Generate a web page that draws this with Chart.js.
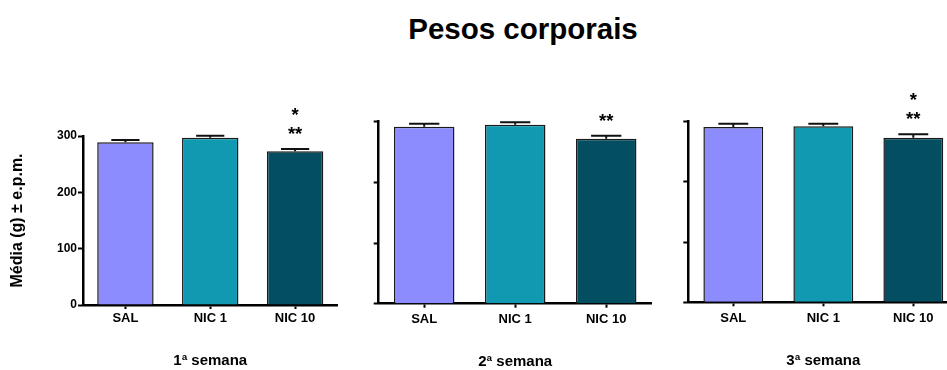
<!DOCTYPE html>
<html>
<head>
<meta charset="utf-8">
<script src="https://cdn.jsdelivr.net/npm/chart.js@4/dist/chart.umd.min.js"></script>
<style>
  html, body { margin: 0; padding: 0; background: #fff; overflow: hidden; }
  #wrap { position: relative; width: 947px; height: 370px; overflow: hidden; }
  canvas.panel { position: absolute; left: 0; top: 0; }
  #title {
    position: absolute; left: 0; width: 1046px; top: 14.3px; text-align: center;
    font: bold 29.5px "Liberation Sans", Arial, sans-serif; line-height: 29.5px; color: #000;
  }
</style>
</head>
<body>
<div id="wrap">
  <div id="title">Pesos corporais</div>
  <canvas id="c1" class="panel" width="980" height="380"></canvas>
  <canvas id="c2" class="panel" width="980" height="380"></canvas>
  <canvas id="c3" class="panel" width="980" height="380"></canvas>
</div>
<script>
// Body weight (g), mean and standard error per treatment group, by week
const categories = ['SAL', 'NIC 1', 'NIC 10'];
const weekLabels = ['1ª semana', '2ª semana', '3ª semana'];
const yTickLabels = ['0', '100', '200', '300'];

const week1Means = [288.8, 297.0, 272.9];
const week1Sem   = [4.2, 3.6, 4.1];
const week1Sig   = ['', '', ['**', '*']];

const week2Means = [291.7, 295.0, 272.0];
const week2Sem   = [5.0, 4.0, 5.0];
const week2Sig   = ['', '', ['**']];

const week3Means = [291.2, 292.4, 273.4];
const week3Sem   = [5.5, 4.3, 5.6];
const week3Sig   = ['', '', ['**', '*']];

const groupColors = ['#8C8CFF', '#1199B1', '#034F61'];
const FONT = '"Liberation Sans", Arial, sans-serif';

// Upper error bar (mean + SEM) with a cap half as wide as the bar
const errorBarPlugin = {
  id: 'errorBars',
  afterDatasetsDraw(chart) {
    const { ctx, scales: { y } } = chart;
    const meta = chart.getDatasetMeta(0);
    const ds = chart.data.datasets[0];
    ctx.save();
    ctx.strokeStyle = '#111';
    ctx.lineWidth = 2;
    meta.data.forEach((bar, i) => {
      const top = y.getPixelForValue(ds.data[i]);
      const capY = y.getPixelForValue(ds.data[i] + ds.sem[i]);
      const half = bar.width / 4;
      ctx.beginPath();
      ctx.moveTo(bar.x, top);
      ctx.lineTo(bar.x, capY);
      ctx.moveTo(bar.x - half, capY);
      ctx.lineTo(bar.x + half, capY);
      ctx.stroke();
    });
    ctx.restore();
  }
};

// Significance asterisks stacked above the error bars
const sigPlugin = {
  id: 'sigMarks',
  afterDatasetsDraw(chart) {
    const { ctx, scales: { y } } = chart;
    const meta = chart.getDatasetMeta(0);
    const ds = chart.data.datasets[0];
    ctx.save();
    ctx.fillStyle = '#000';
    ctx.font = 'bold 18.5px ' + FONT;
    ctx.textAlign = 'center';
    ctx.textBaseline = 'alphabetic';
    meta.data.forEach((bar, i) => {
      const marks = ds.sig[i];
      if (!marks) return;
      const capY = y.getPixelForValue(ds.data[i] + ds.sem[i]);
      marks.forEach((m, k) => {
        ctx.fillText(m, bar.x, capY - 9 - k * 19);
      });
    });
    ctx.restore();
  }
};

function makePanel(id, means, sem, sig, week, layout, showY) {
  return new Chart(document.getElementById(id), {
    type: 'bar',
    data: {
      labels: categories,
      datasets: [{
        data: means,
        sem: sem,
        sig: sig,
        backgroundColor: groupColors,
        borderColor: '#1a1a1a',
        borderWidth: 1.5,
        categoryPercentage: 1,
        barPercentage: 0.665
      }]
    },
    options: {
      responsive: false,
      animation: false,
      events: [],
      layout: { padding: layout.padding },
      plugins: { legend: { display: false }, tooltip: { enabled: false }, title: { display: false } },
      scales: {
        x: {
          z: 1,
          grid: { display: true, drawOnChartArea: false, offset: false, tickLength: 4, tickWidth: 2, tickColor: '#000' },
          border: { display: true, color: '#000', width: 2.5 },
          ticks: { color: '#000', padding: layout.xTickPad, font: { family: FONT, size: 13, weight: 'bold' } },
          title: {
            display: true, text: week, color: '#000',
            padding: { top: 0, bottom: 0 },
            font: { family: FONT, size: 15, weight: 'bold' }
          },
          afterFit(scale) { scale.height = layout.xHeight; }
        },
        y: {
          min: 0, max: 300,
          ticks: {
            display: showY, stepSize: 100, color: '#000', padding: 1,
            font: { family: FONT, size: 12, weight: 'bold' },
            callback: (v) => yTickLabels[Math.round(v / 100)]
          },
          grid: { display: true, drawOnChartArea: false, tickLength: 5, tickWidth: 2, tickColor: '#000' },
          border: { display: true, color: '#000', width: 2.5 },
          title: {
            display: showY, text: 'Média (g) ± e.p.m.', color: '#000',
            padding: { top: 4, bottom: 4 },
            font: { family: FONT, size: 16, weight: 'bold' }
          },
          afterFit(scale) { scale.width = layout.yWidth; }
        }
      }
    },
    plugins: [errorBarPlugin, sigPlugin]
  });
}

makePanel('c1', week1Means, week1Sem, week1Sig, weekLabels[0], {
  padding: { left: 4, top: 136, right: 642.5, bottom: 10.5 },
  yWidth: 79, xHeight: 64.5, xTickPad: 2
}, true);

makePanel('c2', week2Means, week2Sem, week2Sig, weekLabels[1], {
  padding: { left: 366.7, top: 121.7, right: 328.3, bottom: 8.7 },
  yWidth: 12, xHeight: 67.6, xTickPad: 3.5
}, false);

makePanel('c3', week3Means, week3Sem, week3Sig, weekLabels[2], {
  padding: { left: 676.3, top: 121.7, right: 21.7, bottom: 10 },
  yWidth: 12, xHeight: 67.7, xTickPad: 4
}, false);
</script>
</body>
</html>
